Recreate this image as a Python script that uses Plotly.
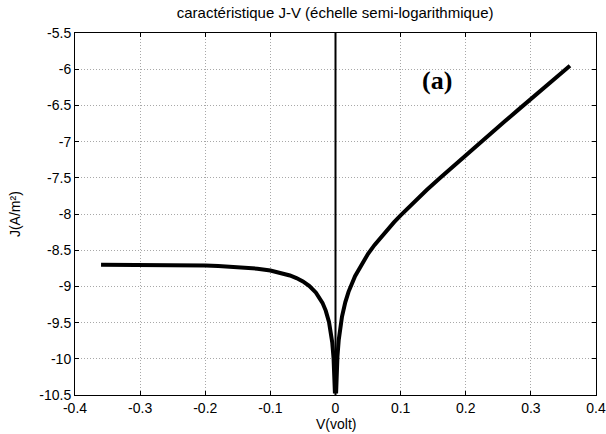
import plotly.graph_objects as go

# Reverse branch (V < 0)
v_rev = [-0.36, -0.33, -0.30, -0.27, -0.25, -0.22, -0.20, -0.18, -0.16, -0.14, -0.12,
         -0.10, -0.09, -0.08, -0.07, -0.06, -0.05, -0.04, -0.03, -0.02, -0.015,
         -0.01, -0.005, -0.003, -0.002, -0.001]
j_rev = [-8.700, -8.700, -8.701, -8.703, -8.704, -8.708, -8.712, -8.718, -8.726, -8.738, -8.755,
         -8.781, -8.799, -8.821, -8.849, -8.885, -8.932, -8.996, -9.087, -9.227, -9.334,
         -9.492, -9.774, -9.989, -10.161, -10.45]

# Forward branch (V > 0)
v_fwd = [0.001, 0.002, 0.003, 0.005, 0.01, 0.015, 0.02, 0.03, 0.04, 0.05, 0.06,
         0.07, 0.08, 0.09, 0.10, 0.12, 0.14, 0.16, 0.18, 0.20, 0.22, 0.24,
         0.26, 0.28, 0.30, 0.32, 0.34, 0.36]
j_fwd = [-10.45, -10.15, -9.966, -9.736, -9.416, -9.220, -9.075, -8.858, -8.690, -8.550, -8.427,
         -8.315, -8.210, -8.112, -8.018, -7.839, -7.669, -7.505, -7.344, -7.186, -7.029, -6.874,
         -6.719, -6.565, -6.412, -6.258, -6.105, -5.952]

x_ticks = [-0.4, -0.3, -0.2, -0.1, 0, 0.1, 0.2, 0.3, 0.4]
x_labels = ["-0.4", "-0.3", "-0.2", "-0.1", "0", "0.1", "0.2", "0.3", "0.4"]
y_ticks = [-5.5, -6, -6.5, -7, -7.5, -8, -8.5, -9, -9.5, -10, -10.5]
y_labels = ["-5.5", "-6", "-6.5", "-7", "-7.5", "-8", "-8.5", "-9", "-9.5", "-10", "-10.5"]

SANS = "Liberation Sans, Arial, Helvetica, sans-serif"
SERIF = "Liberation Serif, Times New Roman, DejaVu Serif, serif"

fig = go.Figure()
fig.add_trace(go.Scatter(x=[0, 0], y=[-5.5, -10.5], mode="lines",
                         line=dict(color="black", width=2), showlegend=False))
fig.add_trace(go.Scatter(x=v_rev + v_fwd, y=j_rev + j_fwd, mode="lines",
                         line=dict(color="black", width=4), showlegend=False))

fig.add_annotation(x=0.156, y=-6.15, text="<b>(a)</b>", showarrow=False,
                   font=dict(family=SERIF, size=26, color="black"))

# axis titles
fig.add_annotation(xref="paper", yref="paper", x=0.5, y=-0.08, text="V(volt)",
                   showarrow=False, yanchor="middle",
                   font=dict(family=SANS, size=14, color="black"))
fig.add_annotation(xref="paper", yref="paper", x=-0.115, y=0.5, text="J(A/m²)",
                   showarrow=False, textangle=-90, xanchor="center",
                   font=dict(family=SANS, size=14, color="black"))

axis_common = dict(showline=True, linecolor="black", linewidth=1, mirror="ticks",
                   ticks="inside", ticklen=4, tickcolor="black", automargin=False,
                   showgrid=True, gridcolor="#a8a8a8", griddash="1px,2px", gridwidth=1,
                   zeroline=False, tickfont=dict(family=SANS, size=14, color="black"))

fig.update_layout(
    width=606, height=434,
    margin=dict(l=75, r=10, t=33, b=39),
    paper_bgcolor="white", plot_bgcolor="white",
    title=dict(text="caractéristique J-V (échelle semi-logarithmique)",
               x=0.553, xanchor="center", y=0.970, yanchor="middle",
               font=dict(family=SANS, size=15, color="black")),
    xaxis=dict(range=[-0.4, 0.4], tickvals=x_ticks, ticktext=x_labels, **axis_common),
    yaxis=dict(range=[-10.5, -5.5], tickvals=y_ticks, ticktext=y_labels, **axis_common),
)

fig.write_html("out.html")
